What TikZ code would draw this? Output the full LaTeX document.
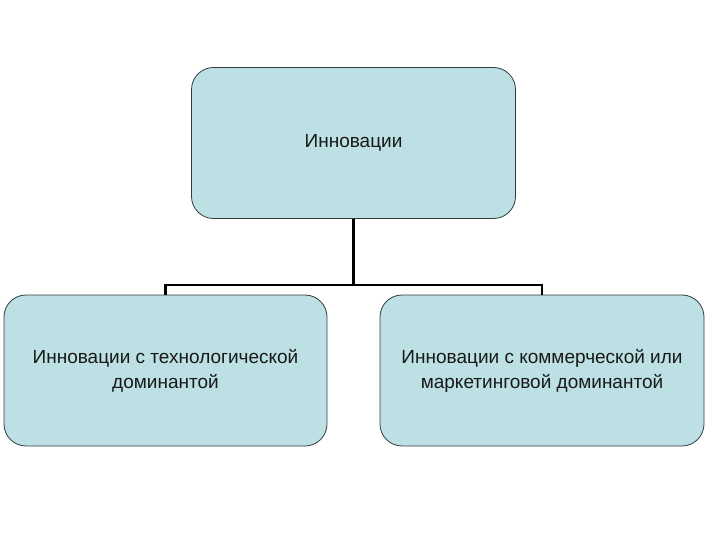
\documentclass[tikz,border=0pt]{standalone}
\usepackage{fontspec}
\setmainfont{Liberation Sans}
\definecolor{boxfill}{RGB}{188,224,228}
\definecolor{boxline}{RGB}{50,60,62}
\begin{document}
\begin{tikzpicture}[x=1pt,y=-1pt,
  ibox/.style={draw=boxline, line width=0.8pt, fill=boxfill, rounded corners=22pt,
    minimum width=#1, minimum height=151pt, align=center, inner sep=0pt,
    font=\fontsize{19}{25}\selectfont, text=black!90},
  conn/.style={line width=2.2pt, black}]
\useasboundingbox (0,0) rectangle (720,540);
\node[ibox=324pt] (top) at (353.5,143) {\raisebox{-3pt}{Инновации}};
\node[ibox=323pt] (left) at (165.5,370.5) {Инновации с технологической\\доминантой};
\node[ibox=324pt] (right) at (542,370.5) {Инновации с коммерческой или\\маркетинговой доминантой};
\coordinate (mid) at (353.5,285);
\draw[conn] (top.south) -- (mid);
\draw[conn] (left.north) -- (left.north |- mid) -- (right.north |- mid) -- (right.north);
\end{tikzpicture}
\end{document}
